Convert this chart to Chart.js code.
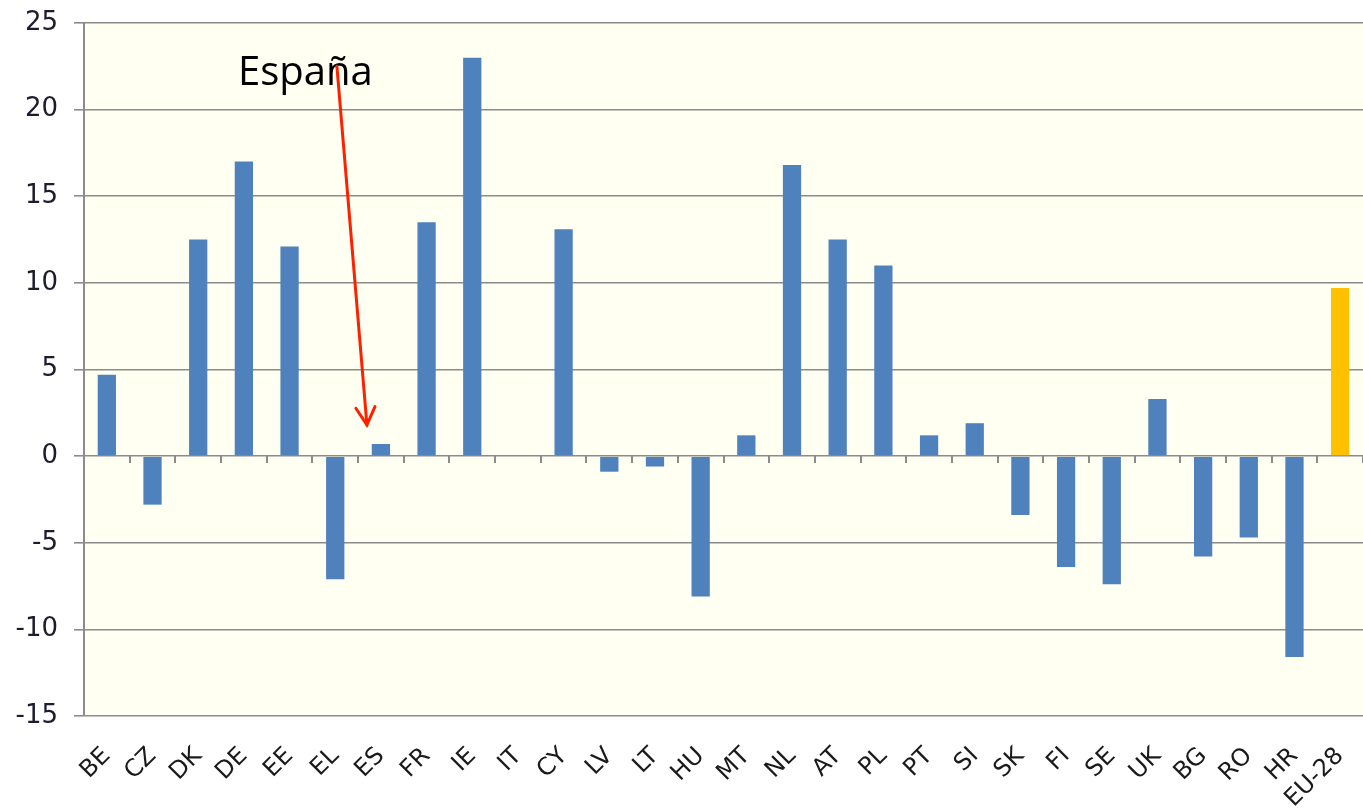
<!DOCTYPE html>
<html lang="es">
<head>
    <meta charset="UTF-8">
    <title>Variación por país</title>
    <script src="https://cdn.jsdelivr.net/npm/chart.js"></script>
    <style>
        html, body {
            margin: 0;
            padding: 0;
            background: #ffffff;
        }
        .chart-container {
            position: relative;
            width: 1363px;
            height: 808px;
        }
    </style>
</head>
<body>
    <div class="chart-container">
        <canvas id="countryChart"></canvas>
    </div>

    <script>
        const countries = ['BE', 'CZ', 'DK', 'DE', 'EE', 'EL', 'ES', 'FR', 'IE', 'IT', 'CY', 'LV', 'LT', 'HU',
            'MT', 'NL', 'AT', 'PL', 'PT', 'SI', 'SK', 'FI', 'SE', 'UK', 'BG', 'RO', 'HR', 'EU-28'];
        const values = [4.7, -2.8, 12.5, 17.0, 12.1, -7.1, 0.7, 13.5, 23.0, 0, 13.1, -0.9, -0.6, -8.1,
            1.2, 16.8, 12.5, 11.0, 1.2, 1.9, -3.4, -6.4, -7.4, 3.3, -5.8, -4.7, -11.6, 9.7];
        const yTicks = [-15, -10, -5, 0, 5, 10, 15, 20, 25];
        const highlighted = 'ES';
        const highlightLabel = 'España';

        const gridColor = '#8c8c8c';
        const barColors = countries.map(c => c === 'EU-28' ? '#ffc000' : '#4f81bd');

        // fondo crema del área de trazado
        const plotBackground = {
            id: 'plotBackground',
            beforeDraw(chart) {
                const { ctx, chartArea } = chart;
                ctx.save();
                ctx.fillStyle = '#fffff2';
                ctx.fillRect(chartArea.left, chartArea.top, chartArea.right - chartArea.left, chartArea.bottom - chartArea.top);
                ctx.restore();
            }
        };

        // texto "España" y flecha roja hacia la barra de ES
        const spainArrow = {
            id: 'spainArrow',
            afterDraw(chart) {
                const { ctx } = chart;
                const x = chart.scales.x;
                const y = chart.scales.y;
                const i = countries.indexOf(highlighted);
                const tipX = x.getPixelForValue(i) - 14;
                const tipY = y.getPixelForValue(values[i] + 1.1);
                const startX = tipX - 30;
                const startY = y.getPixelForValue(22.5);

                ctx.save();
                ctx.font = '40px "Open Sans", "Noto Sans", sans-serif';
                ctx.fillStyle = '#000000';
                ctx.textBaseline = 'alphabetic';
                ctx.fillText(highlightLabel, startX - 99, y.getPixelForValue(21.4));

                ctx.strokeStyle = '#ff2000';
                ctx.lineWidth = 3;
                ctx.lineCap = 'round';
                ctx.beginPath();
                ctx.moveTo(startX, startY);
                ctx.lineTo(tipX, tipY);
                ctx.stroke();

                const ang = Math.atan2(tipY - startY, tipX - startX);
                const len = 20;
                ctx.beginPath();
                ctx.moveTo(tipX - len * Math.cos(ang - 0.5), tipY - len * Math.sin(ang - 0.5));
                ctx.lineTo(tipX, tipY);
                ctx.lineTo(tipX - len * Math.cos(ang + 0.5), tipY - len * Math.sin(ang + 0.5));
                ctx.stroke();
                ctx.restore();
            }
        };

        const ctx = document.getElementById('countryChart').getContext('2d');
        new Chart(ctx, {
            type: 'bar',
            data: {
                labels: countries,
                datasets: [{
                    data: values,
                    backgroundColor: barColors,
                    borderWidth: 0,
                    barPercentage: 0.4,
                    categoryPercentage: 1.0
                }]
            },
            options: {
                responsive: true,
                maintainAspectRatio: false,
                animation: false,
                layout: {
                    padding: { top: 23, right: 0, left: 0, bottom: 0 }
                },
                plugins: {
                    legend: { display: false },
                    tooltip: { enabled: false }
                },
                scales: {
                    x: {
                        position: 'bottom',
                        grid: { display: false },
                        border: { display: false },
                        ticks: {
                            autoSkip: false,
                            maxRotation: 45,
                            minRotation: 45,
                            padding: 18,
                            color: '#1a1a1a',
                            font: { family: '"DejaVu Sans", Verdana, sans-serif', size: 24 }
                        },
                        afterFit(scale) {
                            scale.height = 92;
                            scale.paddingRight = 0;
                            scale.paddingLeft = 0;
                        }
                    },
                    zero: {
                        axis: 'x',
                        type: 'category',
                        labels: countries,
                        position: { y: 0 },
                        offset: true,
                        ticks: { display: false },
                        border: { display: false },
                        grid: {
                            offset: true,
                            drawOnChartArea: false,
                            tickLength: 7,
                            color: gridColor,
                            lineWidth: 2
                        },
                        afterFit(scale) {
                            scale.height = 0;
                            scale.paddingRight = 0;
                            scale.paddingLeft = 0;
                        }
                    },
                    y: {
                        min: -15,
                        max: 25,
                        afterBuildTicks(scale) {
                            scale.ticks = yTicks.map(v => ({ value: v }));
                        },
                        grid: {
                            color: gridColor,
                            lineWidth: 1.6,
                            tickLength: 10
                        },
                        border: { display: true, color: gridColor, width: 2 },
                        ticks: {
                            padding: 16,
                            color: '#1c1c2e',
                            font: { family: '"DejaVu Sans", Verdana, sans-serif', size: 26 }
                        },
                        afterFit(scale) {
                            scale.width = 84;
                            scale.paddingTop = 0;
                            scale.paddingBottom = 0;
                        }
                    }
                }
            },
            plugins: [plotBackground, spainArrow]
        });
    </script>
</body>
</html>
